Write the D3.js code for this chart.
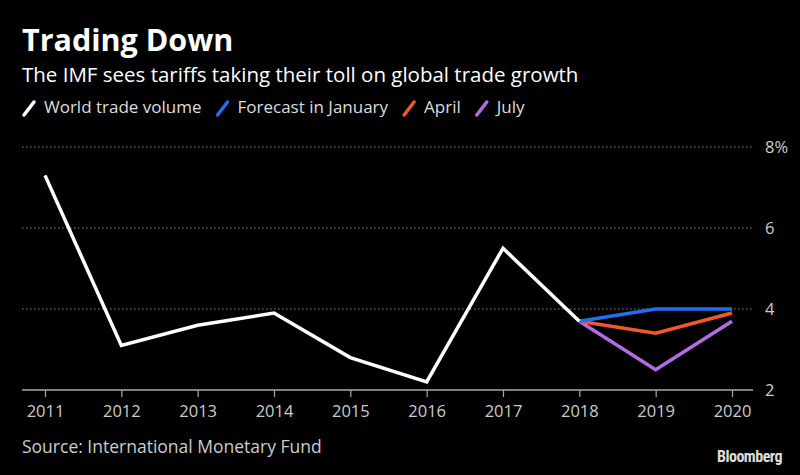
<!DOCTYPE html>
<html>
<head>
<meta charset="utf-8">
<script src="https://cdn.jsdelivr.net/npm/d3@7"></script>
<style>
  body { margin: 0; background: #000; }
  svg { display: block; }
  text { font-family: "Open Sans", "DejaVu Sans", sans-serif; }
</style>
</head>
<body>
<svg id="chart" width="800" height="475"></svg>
<script>
// data
const years = [2011, 2012, 2013, 2014, 2015, 2016, 2017, 2018, 2019, 2020];
const worldTrade = [7.3, 3.1, 3.6, 3.9, 2.8, 2.2, 5.5, 3.7];
const forecastYears = [2018, 2019, 2020];
const forecastJan = [3.7, 4.0, 4.0];
const forecastApr = [3.7, 3.4, 3.9];
const forecastJul = [3.7, 2.5, 3.7];
const yTicks = [2, 4, 6, 8];

const series = [
  { name: "World trade volume", color: "#ffffff", x: years.slice(0, worldTrade.length), y: worldTrade },
  { name: "Forecast in January", color: "#1f6ff2", x: forecastYears, y: forecastJan },
  { name: "April", color: "#f0582a", x: forecastYears, y: forecastApr },
  { name: "July", color: "#b46ce6", x: forecastYears, y: forecastJul }
];

const svg = d3.select("#chart");
svg.append("rect").attr("width", 800).attr("height", 475).attr("fill", "#000");

const x = d3.scaleLinear().domain([2011, 2020]).range([45, 732]);
const y = d3.scaleLinear().domain([2, 8]).range([390, 147]);

// titles
svg.append("text").attr("x", 22).attr("y", 51)
  .attr("fill", "#fff").attr("font-size", 30.5).attr("font-weight", "bold")
  .text("Trading Down");
svg.append("text").attr("x", 22).attr("y", 82)
  .attr("fill", "#fff").attr("font-size", 20.5)
  .text("The IMF sees tariffs taking their toll on global trade growth");

// legend
const legend = svg.append("g");
let lx = 23;
series.forEach(s => {
  const g = legend.append("g").attr("transform", `translate(${lx},0)`);
  g.append("line").attr("x1", 1).attr("y1", 115).attr("x2", 11).attr("y2", 102)
    .attr("stroke", s.color).attr("stroke-width", 3.5).attr("stroke-linecap", "round");
  const t = g.append("text").attr("x", 21).attr("y", 113)
    .attr("fill", "#ddd").attr("font-size", 17).text(s.name);
  lx += 21 + t.node().getComputedTextLength() + 15;
});

// gridlines
svg.append("g").selectAll("line")
  .data(yTicks.filter(d => d > 2))
  .join("line")
  .attr("x1", 22).attr("x2", 753)
  .attr("y1", d => y(d)).attr("y2", d => y(d))
  .attr("stroke", "#888").attr("stroke-width", 1.2)
  .attr("stroke-dasharray", "1.5,2.5");

// y labels
svg.append("g").selectAll("text")
  .data(yTicks)
  .join("text")
  .attr("x", 765).attr("y", d => y(d) + 6)
  .attr("fill", "#ccc").attr("font-size", 16.5)
  .text(d => d === 8 ? "8%" : d);

// x axis
const xAxis = svg.append("g").attr("transform", "translate(0,390)")
  .call(d3.axisBottom(x).tickValues(years).tickFormat(d3.format("d")).tickSize(-7).tickPadding(14));
xAxis.select(".domain").remove();
xAxis.insert("line", ":first-child").attr("x1", 22).attr("x2", 753)
  .attr("stroke", "#aaa").attr("stroke-width", 1.5);
xAxis.selectAll(".tick line").attr("stroke", "#aaa").attr("stroke-width", 1.2)
  .attr("y1", 0).attr("y2", 7);
xAxis.selectAll(".tick text").attr("fill", "#ccc").attr("font-size", 16.5)
  .attr("dy", "0.71em").attr("y", 15)
  .style("font-family", "'Open Sans', 'DejaVu Sans', sans-serif");

// lines
const line = d3.line().x(d => x(d[0])).y(d => y(d[1]));
svg.append("g").selectAll("path")
  .data(series.slice().reverse())
  .join("path")
  .attr("d", s => line(s.x.map((v, i) => [v, s.y[i]])))
  .attr("fill", "none")
  .attr("stroke", s => s.color)
  .attr("stroke-width", 3.5)
  .attr("stroke-linejoin", "miter");

// footer
svg.append("text").attr("x", 22).attr("y", 453)
  .attr("fill", "#ccc").attr("font-size", 17.5)
  .text("Source: International Monetary Fund");
svg.append("text").attr("x", 782).attr("y", 462).attr("text-anchor", "end")
  .attr("fill", "#ddd").attr("font-size", 16).attr("font-weight", "bold")
  .style("font-family", "'Liberation Sans Narrow', 'Roboto Condensed', 'DejaVu Sans Condensed', sans-serif")
  .attr("letter-spacing", -0.5)
  .text("Bloomberg");
</script>
</body>
</html>
